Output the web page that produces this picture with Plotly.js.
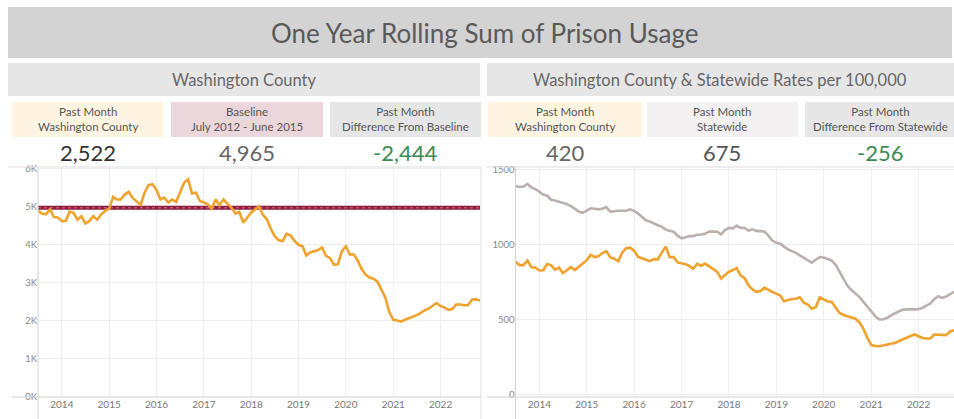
<!DOCTYPE html>
<html>
<head>
<meta charset="utf-8">
<script src="https://cdn.plot.ly/plotly-3.0.1.min.js"></script>
<style>
  html, body { margin:0; padding:0; background:#ffffff; overflow:hidden; }
  #chart { width:954px; height:419px; }
</style>
</head>
<body>
<div id="chart"></div>
<script>
// ---------------- DATA ----------------
const startMonth = [2013, 7];   // first month shown (July 2013)
const monthCount = 113;         // July 2013 .. November 2022

// One-year rolling sum of prison usage, Washington County (monthly)
const countyTotal = [
  4880,4810,4790,4920,4720,4710,4610,4620,4860,4830,
  4650,4740,4550,4610,4740,4650,4790,4880,4940,5250,
  5180,5180,5310,5380,5220,5140,5040,5360,5560,5580,
  5430,5180,5230,5100,5180,5120,5380,5620,5710,5340,
  5360,5140,5100,5050,4940,5180,5030,5180,5070,4970,
  4810,4850,4570,4710,4840,4920,5000,4780,4660,4410,
  4220,4110,4090,4280,4230,4090,3990,3950,3710,3790,
  3810,3850,3920,3700,3640,3470,3480,3820,3950,3730,
  3740,3580,3360,3210,3130,3100,3020,2790,2600,2220,
  2020,2000,1970,2020,2060,2090,2140,2200,2270,2310,
  2380,2460,2380,2340,2280,2300,2420,2420,2400,2400,
  2550,2560,2522
];
const baselineValue = 4965;   // July 2012 - June 2015 baseline

// Rates per 100,000
const countyRate = [
  884,862,862,893,848,846,826,828,869,862,
  832,845,809,828,848,829,850,875,895,931,
  915,920,942,955,915,905,887,945,975,978,
  958,917,907,898,888,902,900,945,985,915,
  915,880,875,868,856,838,870,858,872,855,
  840,818,773,796,818,829,842,793,776,727,
  700,684,690,712,695,683,672,660,622,630,
  636,638,648,612,600,572,582,648,632,620,
  618,582,545,530,522,517,505,482,440,380,
  330,324,322,327,332,337,344,355,365,376,
  390,400,386,377,373,373,400,400,398,396,
  420,428,420
];
const statewideRate = [
  1389,1382,1385,1402,1378,1368,1350,1330,1325,1297,
  1292,1283,1278,1268,1254,1235,1218,1210,1225,1240,
  1237,1233,1237,1248,1218,1222,1224,1224,1224,1233,
  1222,1205,1185,1160,1152,1138,1127,1118,1098,1090,
  1085,1058,1040,1047,1055,1055,1064,1066,1070,1085,
  1087,1086,1066,1095,1110,1107,1124,1110,1110,1092,
  1100,1090,1088,1085,1058,1025,1010,1004,985,966,
  955,944,926,910,895,878,898,916,913,905,
  893,866,818,768,726,696,673,651,618,585,
  553,522,502,500,510,528,540,553,565,567,
  565,567,569,577,592,605,635,655,644,652,
  669,684,675
];

// KPI cards
const leftCardLabels  = ["Past Month<br>Washington County", "Baseline<br>July 2012 - June 2015", "Past Month<br>Difference From Baseline"];
const leftCardValues  = ["2,522", "4,965", "-2,444"];
const rightCardLabels = ["Past Month<br>Washington County", "Past Month<br>Statewide", "Past Month<br>Difference From Statewide"];
const rightCardValues = ["420", "675", "-256"];

const leftYTicks = [0,1000,2000,3000,4000,5000,6000];
const leftYTickText = ["0K","1K","2K","3K","4K","5K","6K"];
const rightYTicks = [0,500,1000,1500];
const rightYTickText = ["0","500","1000","1500"];

const mainTitle = "One Year Rolling Sum of Prison Usage";
const leftHeader = "Washington County";
const rightHeader = "Washington County &amp; Statewide Rates per 100,000";

// ---------------- BUILD ----------------
const months = [];
for (let i = 0; i < monthCount; i++) {
  const m0 = startMonth[1] - 1 + i;
  const y = startMonth[0] + Math.floor(m0 / 12);
  const m = (m0 % 12) + 1;
  months.push(y + "-" + String(m).padStart(2, "0") + "-01");
}

const W = 954, H = 419;
const px = p => p / W;
const py = p => 1 - p / H;

const FONT = "Lato, 'Open Sans', sans-serif";
const ORANGE = "#F0A22E";
const GREY = "#BAB0AC";
const MAROON = "#8E1B3C";

const traces = [
  { x: [months[0], months[monthCount-1]], y: [baselineValue, baselineValue], xaxis:"x", yaxis:"y",
    mode:"lines", line:{color:MAROON, width:4}, hoverinfo:"skip" },
  { x: [months[0], months[monthCount-1]], y: [baselineValue, baselineValue], xaxis:"x", yaxis:"y",
    mode:"lines", line:{color:"#C0566F", width:1.4, dash:"dot"}, hoverinfo:"skip" },
  { x: months, y: countyTotal, xaxis:"x", yaxis:"y", mode:"lines",
    line:{color:ORANGE, width:2.6} },
  { x: months, y: statewideRate, xaxis:"x2", yaxis:"y2", mode:"lines",
    line:{color:GREY, width:2.6} },
  { x: months, y: countyRate, xaxis:"x2", yaxis:"y2", mode:"lines",
    line:{color:ORANGE, width:2.6} }
];

const rect = (x0, y0, x1, y1, color) => ({type:"rect", xref:"paper", yref:"paper",
  x0:px(x0), x1:px(x1), y0:py(y1), y1:py(y0), fillcolor:color, line:{width:0}, layer:"below"});
const hline = (x0, x1, y, color) => ({type:"line", xref:"paper", yref:"paper",
  x0:px(x0), x1:px(x1), y0:py(y), y1:py(y), line:{color:color, width:1}, layer:"above"});
const vline = (x, y0, y1, color) => ({type:"line", xref:"paper", yref:"paper",
  x0:px(x), x1:px(x), y0:py(y0), y1:py(y1), line:{color:color, width:1}, layer:"above"});

const shapes = [
  rect(8, 7, 952, 58, "#D3D3D3"),
  rect(8, 63, 480, 96, "#E6E6E6"),
  rect(487, 63, 954, 96, "#E6E6E6"),
  rect(12, 102, 163, 137, "#FFF3E2"),
  rect(171, 102, 323, 137, "#EBD6DC"),
  rect(330, 102, 481, 137, "#E6E6E6"),
  rect(488, 102, 642, 137, "#FFF3E2"),
  rect(647, 102, 798, 137, "#F2F0F0"),
  rect(805, 102, 960, 137, "#E6E6E6"),
  hline(8, 481, 167, "#DDDDDD"),
  hline(487, 954, 167, "#DDDDDD"),
  vline(481, 167, 419, "#E2E2E2"),
  vline(38, 167, 419, "#D4D4D4"),
  vline(515.5, 167, 419, "#D4D4D4"),
  hline(12, 481, 397, "#D4D4D4"),
  hline(487, 954, 397, "#D4D4D4")
];

const ann = (x, y, text, size, color, extra) => Object.assign({xref:"paper", yref:"paper",
  x:px(x), y:py(y), text:text, showarrow:false, xanchor:"center", yanchor:"middle",
  font:{family:FONT, size:size, color:color}}, extra || {});

const annotations = [
  ann(485, 33, mainTitle, 26, "#595959"),
  ann(244, 80, leftHeader, 16.5, "#666666"),
  ann(720, 80, rightHeader, 16.5, "#666666"),
];
const leftCenters = [88, 247, 405];
const rightCenters = [565, 722, 880];
const leftValColors = ["#333333", "#666666", "#3B8A52"];
const rightValColors = ["#666666", "#555555", "#3B8A52"];
for (let i = 0; i < 3; i++) {
  annotations.push(ann(leftCenters[i], 119, leftCardLabels[i], 11.5, "#555555"));
  annotations.push(ann(leftCenters[i], 152, leftCardValues[i], 22, leftValColors[i]));
  annotations.push(ann(rightCenters[i], 119, rightCardLabels[i], 11.5, "#555555"));
  annotations.push(ann(rightCenters[i], 152, rightCardValues[i], 22, rightValColors[i]));
}

const xCommon = {
  type:"date", dtick:"M12", tick0:"2014-01-01", tickformat:"%Y",
  showgrid:true, gridcolor:"#EEEEEE", gridwidth:1, zeroline:false, showline:false,
  ticks:"", tickfont:{family:FONT, size:10, color:"#777777"}, fixedrange:true
};
const yCommon = {
  showgrid:true, gridcolor:"#EEEEEE", gridwidth:1, zeroline:false, showline:false,
  ticks:"", tickfont:{family:FONT, size:9.5, color:"#888888"}, fixedrange:true
};

const layout = {
  width:W, height:H, margin:{l:0, r:0, t:0, b:0},
  paper_bgcolor:"#FFFFFF", plot_bgcolor:"#FFFFFF",
  showlegend:false,
  xaxis: Object.assign({}, xCommon, {domain:[px(38), px(480)], range:["2013-07-01","2022-11-01"], anchor:"y"}),
  yaxis: Object.assign({}, yCommon, {domain:[py(397), py(167)], range:[-10, 6034], anchor:"x",
          tickvals:leftYTicks, ticktext:leftYTickText}),
  xaxis2: Object.assign({}, xCommon, {domain:[px(515.5), 1], range:["2013-07-01","2022-10-01"], anchor:"y2"}),
  yaxis2: Object.assign({}, yCommon, {domain:[py(397), py(167)], range:[-16, 1515], anchor:"x2",
          tickvals:rightYTicks, ticktext:rightYTickText}),
  shapes: shapes,
  annotations: annotations
};

Plotly.newPlot("chart", traces, layout, {staticPlot:true, displayModeBar:false});
</script>
</body>
</html>
